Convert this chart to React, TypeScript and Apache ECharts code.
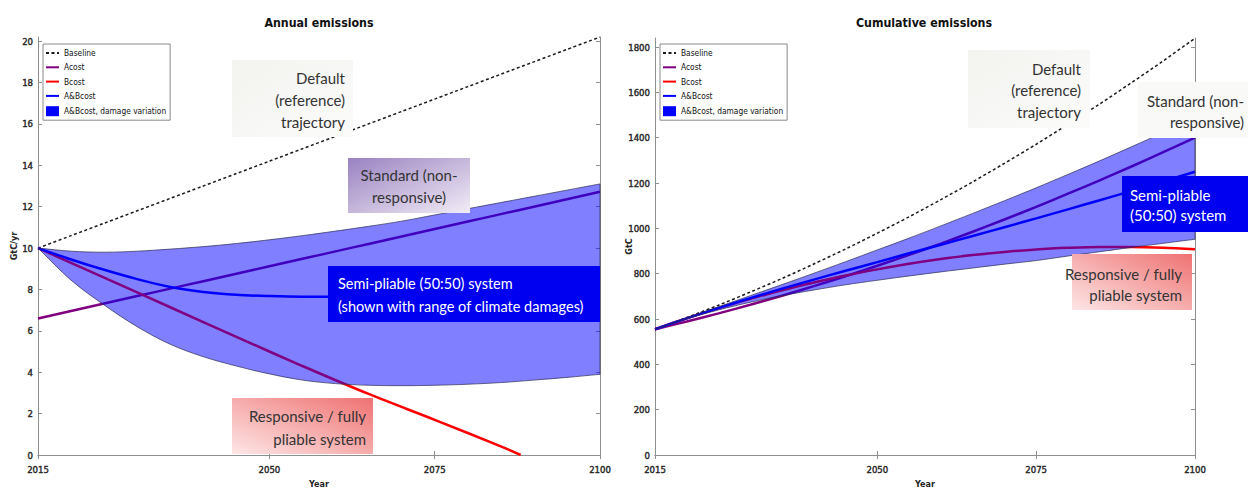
import React, { useEffect, useRef } from "react";
import * as echarts from "echarts";

// ---------- data ----------
const years = [2015, 2020, 2025, 2030, 2035, 2040, 2045, 2050, 2055, 2060, 2065, 2070, 2075, 2080, 2085, 2090, 2095, 2100];
const bcostYears = [2015, 2025, 2035, 2045, 2055, 2065, 2075, 2085, 2088];

const xTicks = [2015, 2050, 2075, 2100];
const annualTicks = [0, 2, 4, 6, 8, 10, 12, 14, 16, 18, 20];
const cumulativeTicks = [0, 200, 400, 600, 800, 1000, 1200, 1400, 1600, 1800];

// Annual emissions (GtC/yr)
const annualBaseline = [10.0, 10.6, 11.2, 11.8, 12.4, 13.0, 13.6, 14.2, 14.8, 15.4, 16.0, 16.6, 17.2, 17.8, 18.4, 19.0, 19.6, 20.2];
const annualAcost = [6.6, 6.96, 7.32, 7.68, 8.04, 8.4, 8.76, 9.12, 9.48, 9.84, 10.2, 10.56, 10.92, 11.28, 11.64, 12.0, 12.36, 12.72];
const annualBcost = [10.0, 8.57, 7.14, 5.71, 4.3, 2.95, 1.7, 0.42, 0];
const annualABcost = [10.0, 9.45, 8.95, 8.5, 8.12, 7.88, 7.74, 7.68, 7.65, 7.65, 7.7, 7.78, 7.86, 7.95, 8.05, 8.15, 8.27, 8.4];
const annualBandUpper = [10.0, 9.85, 9.8, 9.85, 9.95, 10.07, 10.22, 10.4, 10.6, 10.82, 11.05, 11.3, 11.6, 11.9, 12.2, 12.5, 12.8, 13.1];
const annualBandLower = [10.0, 8.45, 7.25, 6.2, 5.35, 4.75, 4.3, 3.92, 3.62, 3.45, 3.37, 3.35, 3.37, 3.42, 3.5, 3.62, 3.75, 3.9];

// Cumulative emissions (GtC)
const cumBaseline = [555, 607, 661, 719, 779, 843, 909, 979, 1051, 1127, 1205, 1287, 1371, 1459, 1549, 1643, 1739, 1839];
const cumAcost = [555, 589, 625, 663, 703, 745, 789, 835, 883, 933, 985, 1039, 1095, 1153, 1212, 1273, 1336, 1400];
const cumBcost = [555, 603, 648, 689, 727, 761, 792, 819, 844, 865, 882, 896, 907, 914, 918, 918, 915, 908];
const cumABcost = [555, 603, 649, 692, 734, 774, 813, 851, 890, 928, 966, 1005, 1044, 1084, 1124, 1165, 1207, 1250];
const cumBandUpper = [555, 605, 654, 703, 752, 802, 853, 905, 957, 1011, 1066, 1122, 1179, 1238, 1298, 1360, 1423, 1488];
const cumBandLower = [555, 601, 640, 674, 703, 728, 751, 771, 790, 808, 825, 842, 858, 878, 897, 916, 934, 952];

const legendNames = ["Baseline", "Acost", "Bcost", "A&Bcost", "A&Bcost, damage variation"];

// ---------- styling ----------
const COND = '"DejaVu Sans Condensed", "DejaVu Sans", sans-serif';
const ANN = 'Lato, "Open Sans", "Noto Sans", sans-serif';
const AXIS_GRAY = "#8f8f8f";
const PURPLE = "#800080";
const RED = "#ff0000";
const BLUE = "#0000ff";
const BAND_NAME = "A&Bcost, damage variation";

const pair = (xs: number[], ys: number[]) => xs.map((x, i) => [x, ys[i]]);

const tickLabelStyle = {
  fontSize: 9.5,
  fontFamily: COND,
  color: "#262626",
  textBorderColor: "#262626",
  textBorderWidth: 0.4,
  formatter: (v: number) => String(v),
};
const axisNameStyle = { fontSize: 9, fontWeight: "bold", fontFamily: COND, color: "#262626" };

function xAxes(grid: number) {
  const common = {
    gridIndex: grid,
    type: "value",
    min: 2015,
    max: 2100,
    splitLine: { show: false },
    axisLine: { show: true, lineStyle: { color: AXIS_GRAY, width: 1 } },
    axisTick: { show: true, inside: true, length: 4, customValues: xTicks, lineStyle: { color: AXIS_GRAY } },
  };
  return [
    {
      ...common,
      position: "bottom",
      axisLabel: { customValues: xTicks, margin: 9, ...tickLabelStyle },
      name: "Year",
      nameLocation: "middle",
      nameGap: 24,
      nameMoveOverlap: false,
      nameTextStyle: axisNameStyle,
    },
    { ...common, position: "top", axisLabel: { show: false } },
  ];
}

function yAxes(grid: number, max: number, ticks: number[], name: string, nameGap: number) {
  const common = {
    gridIndex: grid,
    type: "value",
    min: 0,
    max,
    splitLine: { show: false },
    axisLine: { show: true, lineStyle: { color: AXIS_GRAY, width: 1 } },
    axisTick: { show: true, inside: true, length: 4, customValues: ticks, lineStyle: { color: AXIS_GRAY } },
  };
  return [
    {
      ...common,
      position: "left",
      axisLabel: { customValues: ticks, margin: 5, ...tickLabelStyle },
      name,
      nameLocation: "middle",
      nameGap,
      nameMoveOverlap: false,
      nameTextStyle: axisNameStyle,
    },
    { ...common, position: "right", axisLabel: { show: false } },
  ];
}

function chartSeries(
  xi: number,
  yi: number,
  baseline: number[],
  acost: number[],
  bX: number[],
  bcost: number[],
  abcost: number[],
  upper: number[],
  lower: number[]
) {
  const line = (name: string, data: number[][], color: string, width: number, type: any = "solid") => ({
    name,
    type: "line",
    xAxisIndex: xi,
    yAxisIndex: yi,
    data,
    symbol: "none",
    smooth: 0.3,
    z: 2,
    lineStyle: { color, width, type },
    itemStyle: { color },
  });
  return [
    line("Baseline", pair(years, baseline), "#1a1a1a", 1.5, [3, 2.5]),
    line("Acost", pair(years, acost), PURPLE, 2.5),
    line("Bcost", pair(bX, bcost), RED, 2.5),
    line("A&Bcost", pair(years, abcost), BLUE, 2.5),
    {
      name: BAND_NAME,
      type: "custom",
      coordinateSystem: "cartesian2d",
      xAxisIndex: xi,
      yAxisIndex: yi,
      data: [[years[0], upper[0]]],
      silent: true,
      z: 3,
      itemStyle: { color: BLUE },
      renderItem: (_params: any, api: any) => {
        const top = years.map((x, i) => api.coord([x, upper[i]]));
        const bottom = years.map((x, i) => api.coord([x, lower[i]])).reverse();
        // repeat the two right-hand corner points so the smoothing keeps them sharp
        const pts = [...top, top[top.length - 1], bottom[0], ...bottom];
        const xs = pts.map((p: number[]) => p[0]);
        const ys = pts.map((p: number[]) => p[1]);
        const bounds = [
          [Math.min(...xs), Math.min(...ys)],
          [Math.max(...xs), Math.max(...ys)],
        ];
        return {
          type: "polygon",
          shape: { points: pts, smooth: 0.35, smoothConstraint: bounds },
          style: { fill: "rgba(0,0,255,0.5)", stroke: "#2b2b55", lineWidth: 0.7 },
        };
      },
    },
  ];
}

function legend(left: number) {
  return {
    left,
    top: 44,
    orient: "vertical",
    itemGap: 6.3,
    itemWidth: 13,
    itemHeight: 10,
    padding: [5, 4, 4, 2],
    borderColor: "#8a8a8a",
    borderWidth: 1,
    backgroundColor: "#ffffff",
    selectedMode: false,
    textStyle: { fontSize: 8.3, fontFamily: COND, color: "#111" },
    data: legendNames.map((n) =>
      n === BAND_NAME
        ? { name: n, icon: "rect", itemStyle: { color: BLUE, opacity: 1 } }
        : { name: n, itemStyle: { opacity: 0 } }
    ),
  };
}

function box(x: number, y: number, w: number, h: number, fill: any) {
  return { type: "rect", z: 100, silent: true, shape: { x, y, width: w, height: h }, style: { fill } };
}
function label(text: string, x: number, y: number, align: string, lineHeight: number, fill = "#333333", size = 15) {
  return {
    type: "text",
    z: 101,
    silent: true,
    style: { text, x, y, align, verticalAlign: "top", lineHeight, fontSize: size, fontFamily: ANN, fill },
  };
}

const lightGrad = () =>
  new echarts.graphic.LinearGradient(0, 0, 1, 1, [
    { offset: 0, color: "#f3f3f0" },
    { offset: 1, color: "#fbfbfa" },
  ]);
const purpleGrad = () =>
  new echarts.graphic.LinearGradient(0, 0, 1, 1, [
    { offset: 0, color: "#9a82c0" },
    { offset: 1, color: "#f1ecf6" },
  ]);
const redGrad = () =>
  new echarts.graphic.LinearGradient(0, 1, 1, 0, [
    { offset: 0, color: "#fde6e6" },
    { offset: 1, color: "#ef7272" },
  ]);

const titleStyle = { fontSize: 12.3, fontWeight: "bold", fontFamily: COND, color: "#111" };

export default function App() {
  const ref = useRef<HTMLDivElement>(null);

  useEffect(() => {
    if (!ref.current) return;
    const chart = echarts.init(ref.current, undefined, { renderer: "svg" });
    const option: any = {
      animation: false,
      backgroundColor: "#ffffff",
      title: [
        { text: "Annual emissions", left: 319, top: 17, padding: 0, textAlign: "center", textStyle: titleStyle },
        { text: "Cumulative emissions", left: 924, top: 17, padding: 0, textAlign: "center", textStyle: titleStyle },
      ],
      legend: [legend(43), legend(660)],
      grid: [
        { left: 38, top: 37, width: 562, height: 418, containLabel: false, outerBoundsMode: "none" },
        { left: 655, top: 38, width: 540, height: 417, containLabel: false, outerBoundsMode: "none" },
      ],
      xAxis: [...xAxes(0), ...xAxes(1)],
      yAxis: [...yAxes(0, 20.2, annualTicks, "GtC/yr", 20), ...yAxes(1, 1840, cumulativeTicks, "GtC", 22)],
      series: [
        ...chartSeries(0, 0, annualBaseline, annualAcost, bcostYears, annualBcost, annualABcost, annualBandUpper, annualBandLower),
        ...chartSeries(2, 2, cumBaseline, cumAcost, years, cumBcost, cumABcost, cumBandUpper, cumBandLower),
      ],
      graphic: [
        // left chart annotations
        box(232, 60, 121, 77, lightGrad()),
        label("Default\n(reference)\ntrajectory", 345, 67, "right", 22),
        box(348, 158, 122, 55, purpleGrad()),
        label("Standard (non-\nresponsive)", 409, 164, "center", 22),
        box(328, 266, 272, 56, "#0000f0"),
        label("Semi-pliable (50:50) system\n(shown with range of climate damages)", 338, 272, "left", 23, "#ffffff", 14.5),
        box(232, 398, 141, 56, redGrad()),
        label("Responsive / fully\npliable system", 366, 404, "right", 23),
        // right chart annotations
        box(968, 50, 122, 78, lightGrad()),
        label("Default\n(reference)\ntrajectory", 1081, 58, "right", 21.5),
        box(1138, 82, 110, 56, "#f9f9f8"),
        label("Standard (non-\nresponsive)", 1244, 90, "right", 21),
        box(1122, 176, 126, 56, "#0000f0"),
        label("Semi-pliable\n(50:50) system", 1130, 185, "left", 20, "#ffffff"),
        box(1072, 254, 120, 56, redGrad()),
        label("Responsive / fully\npliable system", 1182, 263, "right", 21),
      ],
    };
    chart.setOption(option);
    return () => chart.dispose();
  }, []);

  return <div ref={ref} style={{ position: "fixed", left: 0, top: 0, width: 1248, height: 488, background: "#fff" }} />;
}
